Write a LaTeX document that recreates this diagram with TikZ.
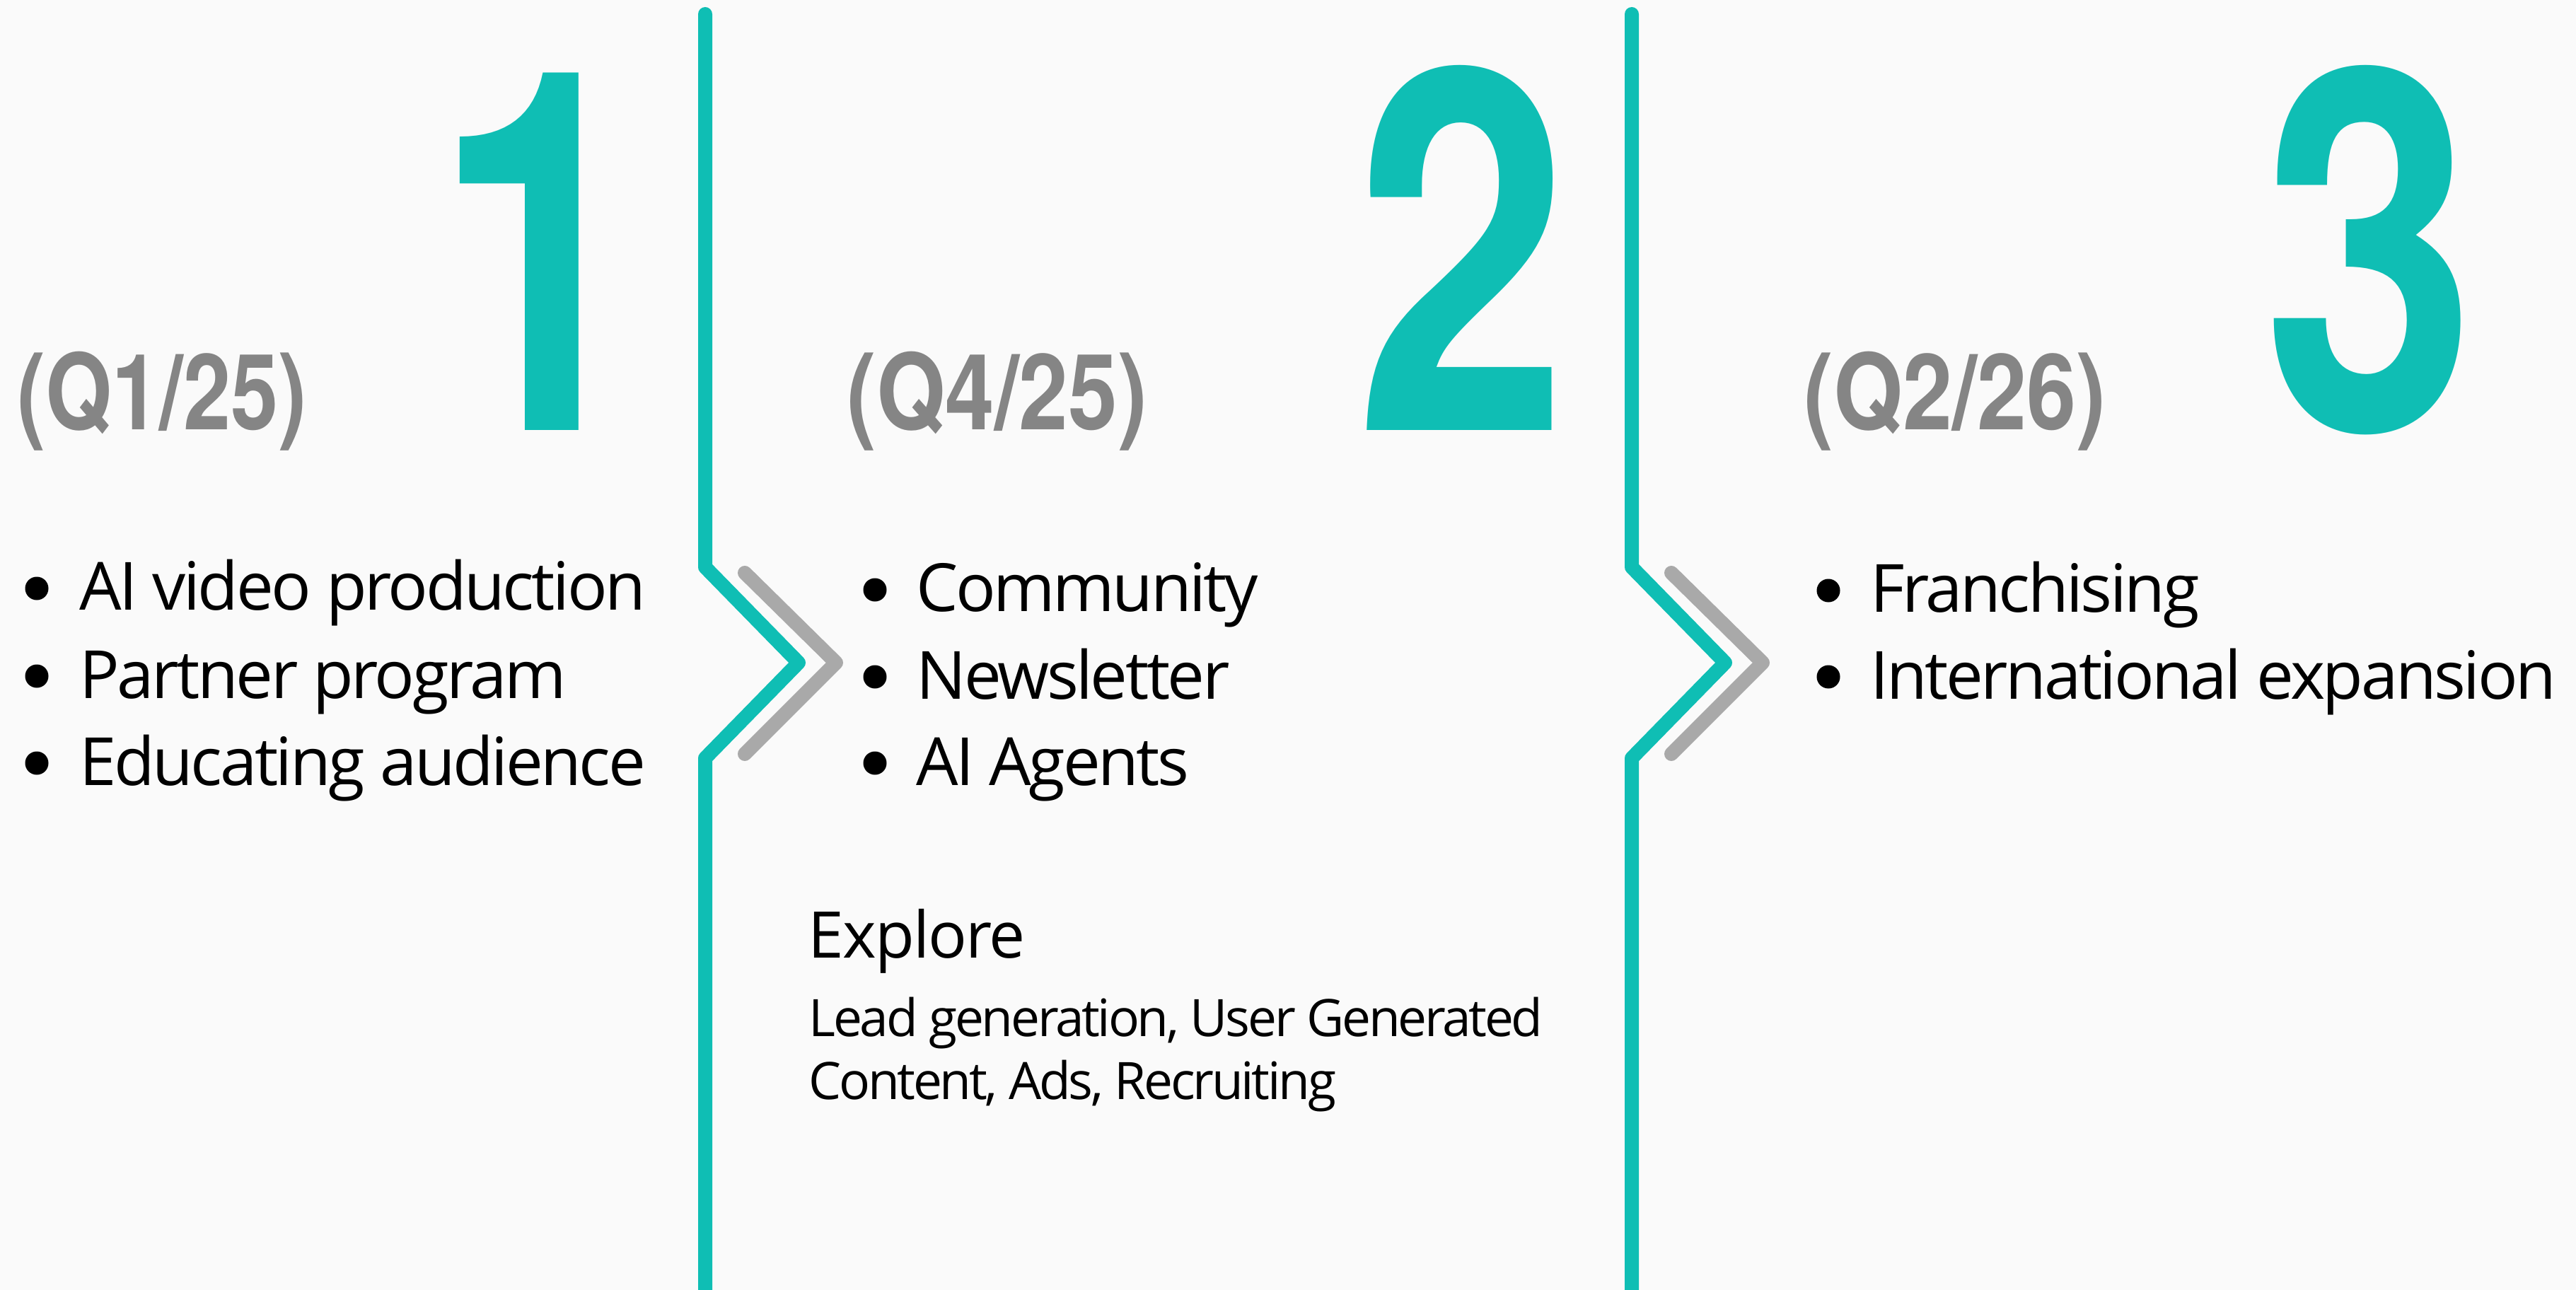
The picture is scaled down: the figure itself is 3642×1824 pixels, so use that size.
\documentclass[tikz,border=0pt]{standalone}
\usepackage{fontspec}
\setmainfont{Open Sans}
\newfontfamily\itemfont{Open Sans}[LetterSpace=-3.6]
\newfontfamily\explorefont{Open Sans}[LetterSpace=-2.0]
\newfontfamily\smallfont{Open Sans}[LetterSpace=-4.5]
\newfontfamily\heavyfont{TeX Gyre Heros}
\definecolor{bgc}{HTML}{FAFAFA}
\definecolor{tealc}{HTML}{0FBEB4}
\definecolor{chevc}{HTML}{A9A9A9}
\definecolor{labelc}{HTML}{858585}
\begin{document}
\begin{tikzpicture}[x=0.5pt,y=-0.5pt,
  tealline/.style={draw=tealc, line width=10pt, line cap=round, line join=round},
  graychev/.style={draw=chevc, line width=10pt, line cap=round, line join=round},
  bulletdot/.style={circle, fill=black, inner sep=0pt, minimum size=16.5pt},
  itemtext/.style={anchor=base west, inner sep=0pt, text=black, font=\itemfont\fontsize{47pt}{56pt}\selectfont},
  quarter/.style={anchor=base west, inner sep=0pt, text=labelc, font=\heavyfont\bfseries\fontsize{74.5pt}{80pt}\selectfont},
  bignum/.style={anchor=base, inner sep=0pt, text=tealc, font=\heavyfont\bfseries\fontsize{356.5pt}{360pt}\selectfont},
  exploretitle/.style={anchor=base west, inner sep=0pt, text=black, font=\explorefont\fontsize{45.5pt}{52pt}\selectfont},
  exploretext/.style={anchor=base west, inner sep=0pt, text=black, font=\smallfont\fontsize{36.5pt}{44.5pt}\selectfont}
]
\fill[bgc] (0,0) rectangle (3642,1824);
\useasboundingbox (0,0) rectangle (3642,1824);

% divider lines
\coordinate (a1) at (997,20);
\coordinate (a2) at (997,802);
\coordinate (a3) at (1129,937);
\coordinate (a4) at (997,1072);
\coordinate (a5) at (997,1830);
\draw[tealline] (a1) -- (a2) -- (a3) -- (a4) -- (a5);
\coordinate (g1) at (1053,810);
\coordinate (g2) at (1182,937);
\coordinate (g3) at (1053,1066);
\draw[graychev] (g1) -- (g2) -- (g3);

\coordinate (b1) at (2307,20);
\coordinate (b2) at (2307,802);
\coordinate (b3) at (2439,937);
\coordinate (b4) at (2307,1072);
\coordinate (b5) at (2307,1830);
\draw[tealline] (b1) -- (b2) -- (b3) -- (b4) -- (b5);
\coordinate (h1) at (2363,810);
\coordinate (h2) at (2492,937);
\coordinate (h3) at (2363,1066);
\draw[graychev] (h1) -- (h2) -- (h3);

% big numbers
\node[bignum] (n1) at (764,608) {\scalebox{0.76}[1]{1}};
\node[bignum] (n2) at (2067,608) {\scalebox{0.76}[1]{2}};
\node[bignum] (n3) at (3350,608) {\scalebox{0.76}[1]{3}};

% quarter labels
\node[quarter] (q1) at (24,607) {\scalebox{0.81}[1]{(Q1/25)}};
\node[quarter] (q2) at (1197,607) {\scalebox{0.84}[1]{(Q4/25)}};
\node[quarter] (q3) at (2550,607) {\scalebox{0.845}[1]{(Q2/26)}};

% column 1
\node[bulletdot] (d11) at (52,832) {};
\node[bulletdot] (d12) at (52,956) {};
\node[bulletdot] (d13) at (52,1079) {};
\node[itemtext] (t11) at (112,862) {AI video production};
\node[itemtext] (t12) at (112,987) {Partner program};
\node[itemtext] (t13) at (112,1110) {Educating audience};

% column 2
\node[bulletdot] (d21) at (1237,834) {};
\node[bulletdot] (d22) at (1237,957) {};
\node[bulletdot] (d23) at (1237,1079) {};
\node[itemtext] (t21) at (1295,864) {Community};
\node[itemtext] (t22) at (1295,988) {Newsletter};
\node[itemtext] (t23) at (1295,1110) {AI Agents};

\node[exploretitle] (e0) at (1142,1354) {Explore};
\node[exploretext] (e1) at (1143,1465) {Lead generation, User Generated};
\node[exploretext] (e2) at (1143,1554) {Content, Ads, Recruiting};

% column 3
\node[bulletdot] (d31) at (2585,835) {};
\node[bulletdot] (d32) at (2585,957) {};
\node[itemtext] (t31) at (2644,865) {Franchising};
\node[itemtext] (t32) at (2644,988) {International expansion};
\end{tikzpicture}
\end{document}
